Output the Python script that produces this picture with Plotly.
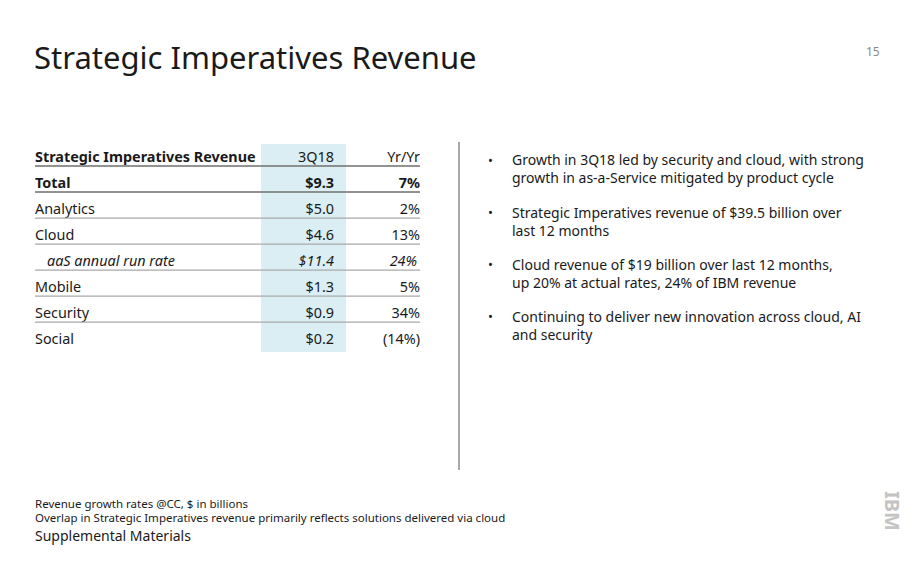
import plotly.graph_objects as go

FONT = "Noto Sans"
OFF = 8                      # page body margin of the browser
W, H = 920 - OFF, 584 - OFF  # figure size so page fits the window

# ---------------- data ----------------
header = ["Strategic Imperatives Revenue", "3Q18", "Yr/Yr"]
categories = ["Total", "Analytics", "Cloud", "aaS annual run rate", "Mobile", "Security", "Social"]
revenue_3q18 = [9.3, 5.0, 4.6, 11.4, 1.3, 0.9, 0.2]
yy_growth = [7, 2, 13, 24, 5, 34, -14]
row_style = ["bold", "normal", "normal", "italic", "normal", "normal", "normal"]

bullets = [
    ["Growth in 3Q18 led by security and cloud, with strong",
     "growth in as-a-Service mitigated by product cycle"],
    ["Strategic Imperatives revenue of $39.5 billion over",
     "last 12 months"],
    ["Cloud revenue of $19 billion over last 12 months,",
     "up 20% at actual rates, 24% of IBM revenue"],
    ["Continuing to deliver new innovation across cloud, AI",
     "and security"],
]
footnotes = ["Revenue growth rates @CC, $ in billions",
             "Overlap in Strategic Imperatives revenue primarily reflects solutions delivered via cloud"]

# ---------------- helpers ----------------
def px(x):
    return (x - OFF) / W

def py(y):
    return 1 - (y - OFF) / H

def fmt_money(v):
    return f"${v:.1f}"

def fmt_pct(v):
    return f"{v}%" if v >= 0 else f"({abs(v)}%)"

def styled(s, style):
    if style == "bold":
        return f"<b>{s}</b>"
    if style == "italic":
        return f"<i>{s}</i>"
    return s

TXT = "#1a1a1a"
fig = go.Figure()

# table axes: x in pixel offsets within table, y = row index
n_rows = len(categories) + 1
rows_y = list(range(n_rows))
TX0, TX1 = 35, 420
TY0, TY1 = 140, 352

label_text = [styled(header[0], "bold")] + [styled(c, s) for c, s in zip(categories, row_style)]
label_x = [0] + [12 if s == "italic" else 0 for s in row_style]
val_text = [header[1]] + [styled(fmt_money(v), s) for v, s in zip(revenue_3q18, row_style)]
pct_text = [header[2]] + [styled(fmt_pct(v), s) for v, s in zip(yy_growth, row_style)]
pct_x = [385] + [382 if s == "italic" else 385 for s in row_style]

ty = [r + 0.2 for r in rows_y]
tfont = dict(family=FONT, size=14.4, color=TXT)
fig.add_trace(go.Scatter(x=label_x, y=ty, mode="text", text=label_text,
                         textposition="middle right", textfont=tfont,
                         hoverinfo="skip", showlegend=False))
fig.add_trace(go.Scatter(x=[299] * n_rows, y=ty, mode="text", text=val_text,
                         textposition="middle left", textfont=tfont,
                         hoverinfo="skip", showlegend=False))
fig.add_trace(go.Scatter(x=pct_x, y=ty, mode="text", text=pct_text,
                         textposition="middle left", textfont=tfont,
                         hoverinfo="skip", showlegend=False))

shapes = []
# shaded column
shapes.append(dict(type="rect", xref="x", yref="y", x0=226, x1=311, y0=-0.35, y1=n_rows - 0.35,
                   fillcolor="#dbeef3", line=dict(width=0), layer="below"))
# row separators
for r in rows_y[:-1]:
    shapes.append(dict(type="line", xref="x", yref="y", x0=0, x1=385, y0=r + 0.5, y1=r + 0.5,
                       line=dict(color="#6f6f6f" if r < 2 else "#a8a8a8", width=1.3)))
# vertical divider
shapes.append(dict(type="line", xref="paper", yref="paper", x0=px(459), x1=px(459),
                   y0=py(142), y1=py(470), line=dict(color="#8c8c8c", width=1.5)))

annotations = []
annotations.append(dict(text="Strategic Imperatives Revenue", x=px(32), y=py(57), xref="paper", yref="paper",
                        xanchor="left", yanchor="middle", showarrow=False,
                        font=dict(family=FONT, size=31, color=TXT)))
annotations.append(dict(text="15", x=px(882), y=py(51), xref="paper", yref="paper",
                        xanchor="right", yanchor="middle", showarrow=False,
                        font=dict(family=FONT, size=12, color="#8a8a8a")))

bullet_tops = [160, 212, 264, 316]
for top, lines in zip(bullet_tops, bullets):
    annotations.append(dict(text="•", x=px(490), y=py(top), xref="paper", yref="paper",
                            xanchor="center", yanchor="middle", showarrow=False,
                            font=dict(family=FONT, size=13, color=TXT)))
    for k, line in enumerate(lines):
        annotations.append(dict(text=line, x=px(510), y=py(top + 18 * k), xref="paper", yref="paper",
                                xanchor="left", yanchor="middle", showarrow=False,
                                font=dict(family=FONT, size=14, color=TXT)))

for k, fn in enumerate(footnotes):
    annotations.append(dict(text=fn, x=px(33), y=py(503 + 14 * k), xref="paper", yref="paper",
                            xanchor="left", yanchor="middle", showarrow=False,
                            font=dict(family=FONT, size=11.5, color=TXT)))
annotations.append(dict(text="Supplemental Materials", x=px(33), y=py(535), xref="paper", yref="paper",
                        xanchor="left", yanchor="middle", showarrow=False,
                        font=dict(family=FONT, size=14, color=TXT)))
annotations.append(dict(text="<b>IBM</b>", x=px(893), y=py(511), xref="paper", yref="paper",
                        xanchor="center", yanchor="middle", showarrow=False, textangle=90,
                        font=dict(family=FONT, size=20, color="#c4c4c4")))

fig.update_layout(
    width=W, height=H, margin=dict(l=0, r=0, t=0, b=0),
    paper_bgcolor="white", plot_bgcolor="rgba(0,0,0,0)",
    xaxis=dict(domain=[px(TX0), px(TX1)], range=[0, TX1 - TX0], visible=False, fixedrange=True),
    yaxis=dict(domain=[py(TY1), py(TY0)], range=[n_rows - 0.35, -0.5], visible=False, fixedrange=True),
    shapes=shapes, annotations=annotations,
)

fig.write_html("out.html")
